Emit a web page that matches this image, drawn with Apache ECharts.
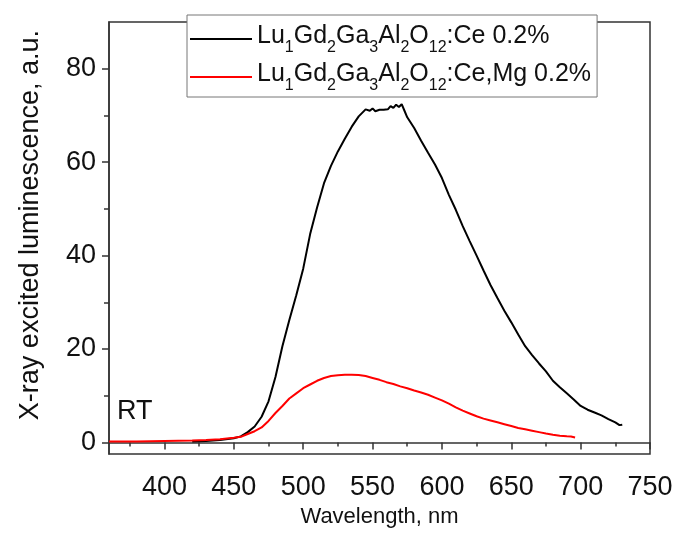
<!DOCTYPE html>
<html><head><meta charset="utf-8">
<script src="https://cdn.jsdelivr.net/npm/echarts@6/dist/echarts.min.js"></script>
<style>html,body{margin:0;padding:0;background:#fff}#c{width:676px;height:533px}</style>
</head><body><div id="c"></div>
<script>
const seriesNames = ['Lu1Gd2Ga3Al2O12:Ce 0.2%', 'Lu1Gd2Ga3Al2O12:Ce,Mg 0.2%'];
const blackNm = [420,430,440,450,455,460,465,470,475,480,485,490,495,500,505,510,515,520,525,530,535,540,545,548,550,552,555,558,561,563,565,567,569,571,573,575,580,585,590,595,600,605,610,615,620,625,630,635,640,645,650,655,660,665,670,675,680,685,690,695,700,705,710,715,720,725,728,730];
const blackVal = [0.2,0.3,0.5,0.9,1.3,2.2,3.4,5.5,8.8,14.0,20.6,26.2,31.5,37.2,44.6,50.3,55.5,59.2,62.3,65.0,67.6,69.8,71.3,71.0,71.5,70.9,71.2,71.2,71.3,72.0,71.6,72.3,71.8,72.4,71.0,69.6,67.3,64.6,62.0,59.5,56.6,53.0,49.8,46.3,43.1,40.0,36.8,33.7,30.9,28.2,25.7,23.1,20.6,18.7,16.9,15.2,13.2,11.8,10.5,9.2,7.8,7.0,6.4,5.8,5.0,4.3,3.7,3.8];
const redNm = [360,380,400,420,430,440,450,455,460,465,470,475,480,485,490,495,500,505,510,515,520,525,530,535,540,545,550,555,560,565,570,575,580,585,590,595,600,605,610,615,620,625,630,635,640,645,650,655,660,665,670,675,680,685,690,693,696];
const redVal = [0.2,0.2,0.3,0.4,0.5,0.7,1.0,1.2,1.8,2.4,3.2,4.6,6.3,7.8,9.4,10.5,11.6,12.4,13.2,13.8,14.2,14.4,14.5,14.5,14.45,14.2,13.8,13.4,12.9,12.5,12.0,11.6,11.1,10.7,10.2,9.6,9.0,8.3,7.5,6.8,6.2,5.6,5.1,4.7,4.3,3.9,3.5,3.1,2.8,2.5,2.2,1.9,1.65,1.45,1.3,1.25,1.05];
const xLabels = [400,450,500,550,600,650,700,750];
const xMinor = [375,425,475,525,575,625,675,725];
const yLabels = [0,20,40,60,80];
const yMinor = [10,30,50,70];
const xTitle = 'Wavelength, nm';
const yTitle = 'X-ray excited luminescence, a.u.';
const note = 'RT';

const FONT = '"Liberation Sans", Arial, sans-serif';
const AX = '#333';
const xMin = 360, xMax = 750, yMin = -2.5, yMax = 90;

function legendFmt(name) {
  const i = name.indexOf(':');
  const formula = name.slice(0, i);
  const rest = name.slice(i);
  const parts = formula.split(/(\d+)/).filter(s => s.length);
  let out = '';
  parts.forEach(p => { out += /^\d+$/.test(p) ? '{s|' + p + '}' : '{n|' + p + '}'; });
  return out + '{n|' + rest + '}';
}

const chart = echarts.init(document.getElementById('c'));
const baseX = {type:'value', min:xMin, max:xMax, splitLine:{show:false}};
const baseY = {type:'value', min:yMin, max:yMax, splitLine:{show:false}};
chart.setOption({
  animation:false,
  backgroundColor:'#fff',
  grid:{left:109, right:26, top:22, bottom:73, show:true, borderColor:AX, borderWidth:1.5, backgroundColor:'transparent'},
  xAxis:[
    Object.assign({}, baseX, {
      position:'bottom',
      name:xTitle, nameLocation:'middle', nameGap:51,
      nameTextStyle:{fontFamily:FONT, fontSize:22, color:'#111'},
      axisLine:{show:true, lineStyle:{color:AX, width:1.5}},
      axisTick:{show:true, length:7, inside:false, customValues:xLabels, lineStyle:{color:AX, width:1.5}},
      axisLabel:{customValues:xLabels, fontFamily:FONT, fontSize:27, color:'#111', margin:20}
    }),
    Object.assign({}, baseX, {
      position:'bottom',
      axisLine:{show:false},
      axisTick:{show:true, length:4, customValues:xMinor, lineStyle:{color:AX, width:1.5}},
      axisLabel:{show:false}
    })
  ],
  yAxis:[
    Object.assign({}, baseY, {
      position:'left',
      name:yTitle, nameLocation:'middle', nameGap:65, nameRotate:90,
      nameTextStyle:{fontFamily:FONT, fontSize:27, color:'#111', padding:[0,0,0,26]},
      axisLine:{show:true, lineStyle:{color:AX, width:1.5}},
      axisTick:{show:true, length:7, customValues:yLabels, lineStyle:{color:AX, width:1.5}},
      axisLabel:{customValues:yLabels, fontFamily:FONT, fontSize:27, color:'#111', margin:13}
    }),
    Object.assign({}, baseY, {
      position:'left',
      axisLine:{show:false},
      axisTick:{show:true, length:5, customValues:yMinor, lineStyle:{color:AX, width:1.5}},
      axisLabel:{show:false}
    })
  ],
  legend:{
    data:seriesNames.map(n => ({name:n, icon:'rect'})), orient:'vertical', left:187, top:15,
    padding:[9,6,3,3], itemGap:6, itemWidth:62, itemHeight:2,
    backgroundColor:'#fff', borderColor:'#777', borderWidth:1,
    formatter:legendFmt,
    textStyle:{fontFamily:FONT, color:'#111', rich:{
      n:{fontFamily:FONT, fontSize:25, lineHeight:30, verticalAlign:'top', color:'#111'},
      s:{fontFamily:FONT, fontSize:16, lineHeight:16, verticalAlign:'top', padding:[16,0,0,0], color:'#111'}
    }}
  },
  graphic:[{type:'text', left:117, top:398, style:{text:note, font:'27px ' + FONT, fill:'#111'}}],
  series:[
    {name:seriesNames[0], type:'line', symbol:'none', xAxisIndex:0, yAxisIndex:0,
     lineStyle:{color:'#000', width:2}, itemStyle:{color:'#000'},
     data:blackNm.map((x,i)=>[x, blackVal[i]])},
    {name:seriesNames[1], type:'line', symbol:'none', xAxisIndex:0, yAxisIndex:0,
     lineStyle:{color:'#f00', width:2}, itemStyle:{color:'#f00'},
     data:redNm.map((x,i)=>[x, redVal[i]])}
  ]
});
</script></body></html>
